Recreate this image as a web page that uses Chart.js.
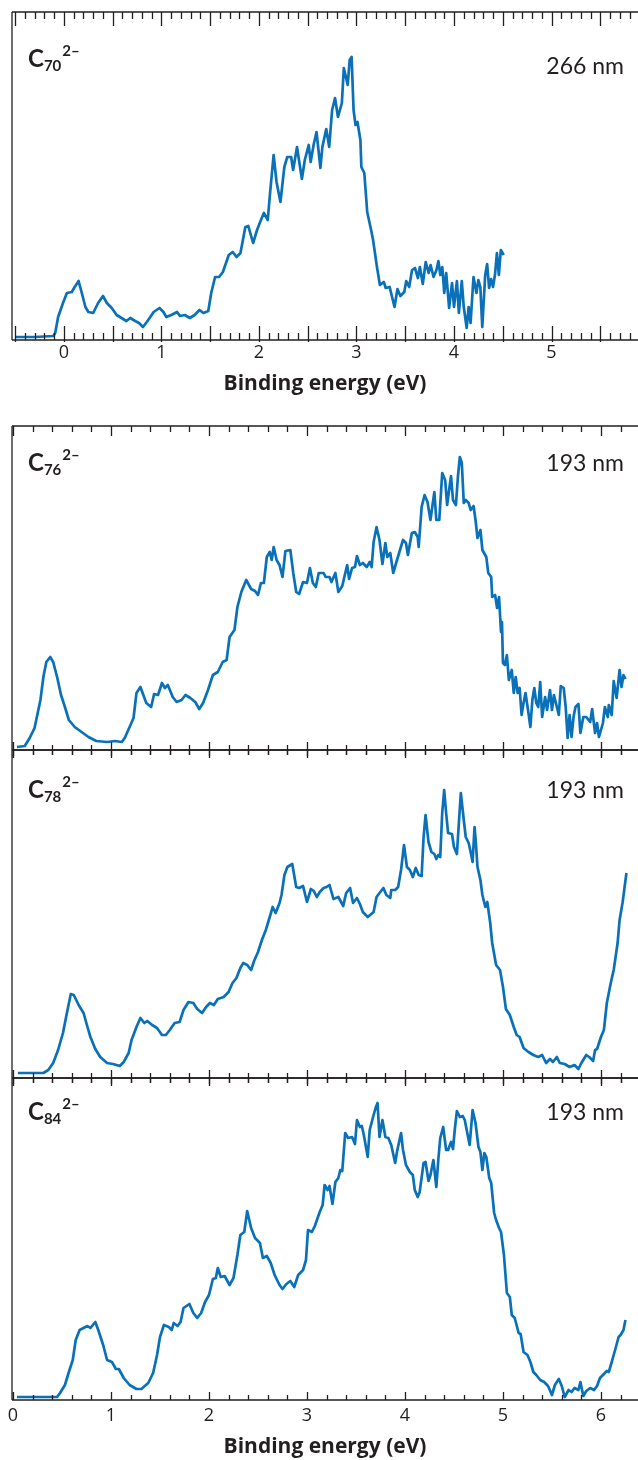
<!DOCTYPE html>
<html>
<head>
<meta charset="utf-8">
<title>Photoelectron spectra of fullerene dianions</title>
<script src="https://cdn.jsdelivr.net/npm/chart.js@4.4.0/dist/chart.umd.min.js"></script>
<style>
    html, body { margin: 0; padding: 0; background: #fff; }
    body { width: 638px; height: 1460px; position: relative; overflow: hidden; }
    canvas { position: absolute; left: 0; }
</style>
</head>
<body>
<canvas id="c70" width="638" height="400" style="top:0px"></canvas>
<canvas id="c76" width="638" height="336" style="top:420px"></canvas>
<canvas id="c78" width="638" height="340" style="top:744px"></canvas>
<canvas id="c84" width="638" height="388" style="top:1072px"></canvas>
<script>
// Data: binding energy (eV) and signal (arb. units)
const c70Energy = [
    -0.50, -0.30, -0.11, -0.09, -0.06, -0.01, 0.03, 0.08, 0.11, 0.15,
    0.18, 0.22, 0.25, 0.30, 0.35, 0.40, 0.44, 0.49, 0.54, 0.59,
    0.64, 0.68, 0.73, 0.77, 0.81, 0.85, 0.92, 0.98, 1.02, 1.05,
    1.10, 1.16, 1.19, 1.24, 1.29, 1.34, 1.39, 1.43, 1.48, 1.51,
    1.55, 1.59, 1.63, 1.69, 1.73, 1.77, 1.81, 1.86, 1.89, 1.94,
    1.98, 2.02, 2.05, 2.09, 2.11, 2.15, 2.18, 2.22, 2.26, 2.29,
    2.33, 2.35, 2.39, 2.41, 2.44, 2.47, 2.51, 2.53, 2.56, 2.59,
    2.63, 2.65, 2.69, 2.72, 2.75, 2.78, 2.81, 2.85, 2.87, 2.91,
    2.93, 2.95, 2.97, 2.99, 3.01, 3.04, 3.05, 3.08, 3.11, 3.15,
    3.17, 3.21, 3.24, 3.28, 3.30, 3.34, 3.36, 3.39, 3.42, 3.45,
    3.49, 3.51, 3.54, 3.57, 3.60, 3.63, 3.65, 3.68, 3.71, 3.74,
    3.76, 3.79, 3.82, 3.84, 3.86, 3.88, 3.90, 3.92, 3.95, 3.98,
    4.00, 4.03, 4.05, 4.08, 4.10, 4.13, 4.15, 4.17, 4.20, 4.23,
    4.25, 4.27, 4.29, 4.32, 4.34, 4.36, 4.38, 4.40, 4.42, 4.44,
    4.46, 4.48, 4.51
];
const c70Signal = [
    3, 3, 4, 7, 23, 37, 47, 48, 53, 59,
    48, 33, 28, 27, 37, 44, 37, 32, 25, 22,
    19, 22, 19, 17, 13, 18, 28, 32, 28, 23,
    25, 28, 24, 25, 22, 25, 30, 27, 29, 47,
    63, 63, 68, 85, 88, 83, 87, 113, 114, 97,
    110, 120, 127, 120, 143, 185, 158, 138, 173, 183,
    183, 170, 193, 180, 161, 180, 195, 178, 195, 208,
    172, 193, 211, 193, 230, 242, 223, 237, 272, 255,
    280, 283, 230, 215, 218, 200, 173, 167, 128, 110,
    100, 73, 55, 58, 52, 53, 45, 33, 51, 44,
    48, 59, 53, 70, 72, 62, 73, 56, 78, 67,
    75, 63, 70, 79, 65, 73, 47, 67, 32, 57,
    33, 59, 27, 59, 33, 12, 33, 17, 63, 47,
    60, 53, 13, 65, 76, 52, 61, 53, 65, 87,
    65, 90, 85
];

const c76Energy = [
    0.04, 0.12, 0.17, 0.22, 0.28, 0.31, 0.34, 0.38, 0.41, 0.45,
    0.49, 0.53, 0.57, 0.63, 0.70, 0.77, 0.85, 0.96, 1.04, 1.11,
    1.14, 1.19, 1.23, 1.26, 1.30, 1.33, 1.36, 1.41, 1.44, 1.48,
    1.52, 1.55, 1.58, 1.63, 1.67, 1.72, 1.76, 1.81, 1.86, 1.90,
    1.94, 1.99, 2.04, 2.09, 2.14, 2.18, 2.21, 2.26, 2.29, 2.33,
    2.38, 2.43, 2.47, 2.50, 2.53, 2.56, 2.59, 2.62, 2.64, 2.66,
    2.69, 2.72, 2.75, 2.78, 2.83, 2.86, 2.89, 2.92, 2.96, 3.00,
    3.03, 3.06, 3.09, 3.12, 3.17, 3.19, 3.23, 3.25, 3.29, 3.32,
    3.36, 3.41, 3.43, 3.46, 3.49, 3.51, 3.54, 3.57, 3.61, 3.64,
    3.66, 3.68, 3.71, 3.74, 3.77, 3.80, 3.82, 3.85, 3.88, 3.91,
    3.94, 3.98, 4.01, 4.03, 4.07, 4.10, 4.13, 4.14, 4.17, 4.20,
    4.23, 4.26, 4.30, 4.32, 4.35, 4.38, 4.41, 4.43, 4.47, 4.49,
    4.52, 4.54, 4.56, 4.58, 4.60, 4.62, 4.65, 4.67, 4.70, 4.72,
    4.74, 4.77, 4.79, 4.83, 4.85, 4.88, 4.89, 4.92, 4.94, 4.96,
    4.98, 4.99, 5.00, 5.02, 5.04, 5.06, 5.09, 5.11, 5.13, 5.15,
    5.17, 5.19, 5.21, 5.23, 5.26, 5.28, 5.30, 5.32, 5.34, 5.36,
    5.38, 5.40, 5.43, 5.45, 5.48, 5.50, 5.52, 5.55, 5.57, 5.59,
    5.62, 5.64, 5.66, 5.68, 5.70, 5.72, 5.74, 5.77, 5.79, 5.82,
    5.85, 5.89, 5.91, 5.94, 5.96, 5.98, 6.02, 6.04, 6.07, 6.08,
    6.11, 6.13, 6.16, 6.19, 6.21, 6.23, 6.25
];
const c76Signal = [
    3, 4, 12, 22, 50, 73, 88, 93, 88, 73,
    55, 43, 30, 23, 18, 13, 9, 8, 9, 8,
    12, 23, 32, 57, 63, 55, 47, 43, 56, 55,
    67, 62, 65, 53, 48, 50, 55, 52, 48, 41,
    47, 60, 75, 78, 88, 90, 113, 120, 143, 158,
    170, 161, 159, 155, 167, 167, 193, 198, 190, 203,
    190, 185, 173, 199, 200, 177, 158, 156, 168, 167,
    182, 167, 163, 177, 177, 173, 173, 168, 177, 158,
    164, 185, 171, 182, 183, 194, 185, 187, 183, 188,
    183, 208, 223, 210, 186, 207, 193, 197, 177, 187,
    197, 210, 207, 195, 217, 218, 213, 203, 243, 255,
    248, 230, 258, 230, 230, 277, 270, 245, 274, 250,
    245, 273, 293, 287, 247, 250, 247, 240, 244, 230,
    212, 220, 200, 193, 177, 173, 153, 155, 142, 153,
    118, 128, 87, 85, 95, 70, 80, 57, 73, 57,
    62, 35, 47, 57, 37, 23, 50, 62, 47, 43,
    68, 33, 53, 40, 60, 40, 55, 43, 35, 64,
    62, 43, 12, 35, 13, 33, 43, 46, 17, 33,
    33, 28, 41, 17, 27, 13, 27, 43, 33, 45,
    35, 69, 52, 80, 63, 75, 71
];

const c78Energy = [
    0.05, 0.31, 0.36, 0.41, 0.46, 0.51, 0.55, 0.59, 0.62, 0.67,
    0.72, 0.76, 0.79, 0.84, 0.89, 0.96, 1.02, 1.09, 1.13, 1.18,
    1.21, 1.26, 1.30, 1.34, 1.37, 1.42, 1.47, 1.52, 1.56, 1.60,
    1.65, 1.70, 1.74, 1.79, 1.84, 1.88, 1.93, 1.97, 2.01, 2.05,
    2.09, 2.15, 2.20, 2.24, 2.28, 2.32, 2.35, 2.39, 2.43, 2.46,
    2.50, 2.54, 2.58, 2.62, 2.65, 2.68, 2.72, 2.74, 2.77, 2.80,
    2.85, 2.89, 2.92, 2.96, 3.00, 3.04, 3.07, 3.10, 3.13, 3.17,
    3.20, 3.23, 3.27, 3.32, 3.37, 3.40, 3.44, 3.47, 3.51, 3.54,
    3.57, 3.62, 3.68, 3.71, 3.74, 3.78, 3.81, 3.85, 3.86, 3.90,
    3.93, 3.96, 3.99, 4.02, 4.05, 4.08, 4.11, 4.14, 4.17, 4.19,
    4.21, 4.24, 4.27, 4.30, 4.32, 4.34, 4.36, 4.38, 4.40, 4.42,
    4.44, 4.48, 4.50, 4.53, 4.55, 4.57, 4.60, 4.62, 4.65, 4.67,
    4.69, 4.71, 4.72, 4.74, 4.77, 4.79, 4.82, 4.84, 4.87, 4.89,
    4.93, 4.97, 5.00, 5.03, 5.07, 5.11, 5.14, 5.17, 5.21, 5.26,
    5.31, 5.36, 5.40, 5.44, 5.48, 5.51, 5.55, 5.58, 5.63, 5.68,
    5.73, 5.77, 5.80, 5.85, 5.88, 5.92, 5.94, 5.96, 6.00, 6.03,
    6.06, 6.10, 6.13, 6.17, 6.19, 6.22, 6.26
];
const c78Signal = [
    5, 5, 8, 15, 28, 45, 65, 84, 83, 73,
    65, 51, 41, 29, 21, 15, 14, 12, 16, 25,
    38, 51, 60, 55, 57, 53, 50, 43, 43, 48,
    55, 56, 68, 76, 75, 69, 65, 71, 75, 73,
    79, 81, 86, 95, 100, 110, 115, 113, 108, 117,
    126, 138, 148, 161, 171, 165, 175, 183, 203, 211,
    214, 191, 190, 192, 176, 189, 187, 181, 186, 190,
    191, 193, 179, 181, 172, 185, 190, 175, 180, 174,
    166, 161, 166, 181, 185, 190, 183, 180, 188, 188,
    191, 208, 233, 211, 208, 201, 210, 203, 202, 241,
    263, 236, 226, 224, 219, 223, 221, 265, 288, 265,
    245, 244, 231, 224, 255, 285, 258, 241, 235, 226,
    216, 251, 240, 211, 198, 183, 171, 176, 155, 135,
    113, 108, 91, 69, 63, 51, 43, 41, 30, 26,
    23, 21, 23, 15, 19, 16, 21, 15, 14, 11,
    13, 9, 15, 23, 21, 17, 28, 29, 41, 48,
    75, 95, 108, 135, 158, 175, 205
];

const c84Energy = [
    0.04, 0.45, 0.48, 0.53, 0.57, 0.61, 0.64, 0.68, 0.72, 0.76,
    0.79, 0.84, 0.87, 0.92, 0.96, 1.01, 1.05, 1.08, 1.13, 1.19,
    1.26, 1.31, 1.38, 1.43, 1.47, 1.50, 1.54, 1.59, 1.62, 1.64,
    1.68, 1.71, 1.74, 1.80, 1.84, 1.88, 1.92, 1.96, 2.00, 2.04,
    2.07, 2.09, 2.12, 2.16, 2.21, 2.25, 2.29, 2.32, 2.36, 2.39,
    2.43, 2.47, 2.52, 2.55, 2.59, 2.63, 2.67, 2.72, 2.75, 2.79,
    2.83, 2.87, 2.91, 2.96, 2.99, 3.01, 3.05, 3.08, 3.13, 3.16,
    3.18, 3.21, 3.23, 3.26, 3.29, 3.32, 3.34, 3.36, 3.39, 3.42,
    3.46, 3.49, 3.51, 3.54, 3.56, 3.58, 3.62, 3.64, 3.68, 3.70,
    3.72, 3.74, 3.77, 3.80, 3.83, 3.86, 3.90, 3.92, 3.96, 3.98,
    4.01, 4.05, 4.08, 4.10, 4.13, 4.15, 4.19, 4.21, 4.24, 4.26,
    4.29, 4.32, 4.34, 4.36, 4.39, 4.42, 4.44, 4.47, 4.49, 4.51,
    4.53, 4.56, 4.59, 4.61, 4.64, 4.66, 4.69, 4.72, 4.75, 4.77,
    4.79, 4.81, 4.83, 4.86, 4.88, 4.91, 4.93, 4.96, 4.98, 5.01,
    5.04, 5.07, 5.09, 5.12, 5.16, 5.18, 5.21, 5.25, 5.28, 5.31,
    5.34, 5.38, 5.42, 5.46, 5.50, 5.53, 5.57, 5.60, 5.63, 5.67,
    5.70, 5.73, 5.77, 5.79, 5.82, 5.85, 5.89, 5.93, 5.96, 5.99,
    6.02, 6.06, 6.08, 6.11, 6.13, 6.15, 6.18, 6.20, 6.23, 6.25
];
const c84Signal = [
    3, 3, 7, 15, 28, 40, 60, 70, 72, 74,
    72, 78, 70, 55, 40, 38, 31, 31, 22, 15,
    11, 11, 17, 27, 45, 63, 75, 73, 70, 77,
    74, 78, 92, 96, 87, 82, 87, 98, 105, 121,
    122, 132, 123, 124, 115, 122, 145, 165, 168, 189,
    172, 162, 157, 142, 144, 137, 125, 115, 111, 116,
    119, 113, 125, 130, 140, 170, 168, 174, 188, 195,
    215, 210, 214, 196, 218, 222, 230, 229, 267, 262,
    263, 256, 280, 273, 274, 265, 243, 270, 285, 292,
    297, 263, 280, 263, 262, 255, 237, 249, 267, 250,
    235, 228, 225, 210, 203, 208, 237, 238, 219, 225,
    240, 213, 240, 262, 273, 250, 250, 258, 251, 272,
    289, 283, 284, 280, 265, 255, 290, 277, 253, 248,
    230, 247, 243, 222, 217, 187, 180, 172, 168, 145,
    107, 103, 85, 82, 67, 66, 48, 45, 38, 28,
    25, 20, 18, 14, 5, 15, 21, 14, 3, 10,
    8, 12, 10, 18, 4, 9, 12, 10, 14, 22,
    25, 29, 28, 38, 45, 52, 63, 65, 70, 80
];

// Tick labels on the two labelled axes
const topTickLabels = [0, 1, 2, 3, 4, 5];
const bottomTickLabels = [0, 1, 2, 3, 4, 5, 6];

const ink = '#231f20';
const lineBlue = '#0a71b9';
const fontFamily = 'Lato, "Open Sans", sans-serif';
const axisFont = '"Open Sans", Lato, sans-serif';

// Frame, inward tick marks and panel captions
const panelDecor = {
    id: 'panelDecor',
    afterDraw(chart, args, opts) {
        const { ctx, chartArea: a } = chart;
        const x = chart.scales.x;
        ctx.save();
        ctx.strokeStyle = ink;
        ctx.lineWidth = 1.3;
        ctx.beginPath();
        ctx.moveTo(a.left, a.top);
        ctx.lineTo(a.right, a.top);
        ctx.moveTo(a.left, a.bottom);
        ctx.lineTo(a.right, a.bottom);
        ctx.moveTo(a.left, a.top);
        ctx.lineTo(a.left, a.bottom);

        const first = Math.ceil(x.min / opts.minorStep - 1e-6);
        const last = Math.floor(x.max / opts.minorStep + 1e-6);
        for (let i = first; i <= last; i++) {
            const v = i * opts.minorStep;
            const r = v / opts.majorStep;
            const major = Math.abs(r - Math.round(r)) < 1e-6;
            const px = Math.round(x.getPixelForValue(v)) + 0.5;
            if (px <= a.left + 1) continue;
            const t = major ? opts.topMajor : opts.topMinor;
            const b = major ? opts.bottomMajor : opts.bottomMinor;
            ctx.moveTo(px, a.top);
            ctx.lineTo(px, a.top + t);
            ctx.moveTo(px, a.bottom - b[0]);
            ctx.lineTo(px, a.bottom + b[1]);
        }
        ctx.stroke();

        // Species label with sub- and superscript
        const base = a.top + opts.labelDrop;
        ctx.fillStyle = ink;
        ctx.textBaseline = 'alphabetic';
        ctx.textAlign = 'left';
        ctx.font = 'bold 24px ' + fontFamily;
        let tx = a.left + 16;
        ctx.fillText('C', tx, base);
        tx += ctx.measureText('C').width;
        ctx.font = 'bold 15px ' + fontFamily;
        ctx.fillText(opts.size, tx, base + 4);
        tx += ctx.measureText(opts.size).width + 1;
        ctx.fillText('2\u2013', tx, base - 11);

        // Laser wavelength
        ctx.font = '23px ' + fontFamily;
        ctx.textAlign = 'right';
        ctx.fillText(opts.wave, a.right - 14, base + opts.waveShift);
        ctx.restore();
    }
};

function toPoints(energy, signal) {
    return energy.map((e, i) => ({ x: e, y: signal[i] }));
}

function createPanel(id, energy, signal, cfg) {
    const ctx = document.getElementById(id).getContext('2d');
    const xAxis = {
        type: 'linear',
        min: cfg.xMin,
        max: cfg.xMax,
        display: !!cfg.tickLabels,
        grid: { display: false, drawTicks: false },
        border: { display: false }
    };
    if (cfg.tickLabels) {
        xAxis.afterBuildTicks = scale => {
            scale.ticks = cfg.tickLabels.map(v => ({ value: v }));
        };
        xAxis.afterFit = scale => { scale.height = 60; };
        xAxis.ticks = {
            autoSkip: false,
            maxRotation: 0,
            padding: cfg.tickPad,
            color: ink,
            font: { family: axisFont, size: 18 }
        };
        xAxis.title = {
            display: true,
            text: 'Binding energy (eV)',
            color: ink,
            font: { family: axisFont, size: 21, weight: 'bold' },
            padding: { top: 0, bottom: cfg.titlePad }
        };
    }

    return new Chart(ctx, {
        type: 'line',
        data: {
            datasets: [{
                data: toPoints(energy, signal),
                borderColor: lineBlue,
                borderWidth: 2.7,
                borderJoinStyle: 'round',
                pointRadius: 0,
                tension: 0,
                fill: false
            }]
        },
        options: {
            responsive: false,
            animation: false,
            events: [],
            layout: { padding: cfg.padding },
            scales: {
                x: xAxis,
                y: { display: false, min: 0, max: cfg.yMax }
            },
            plugins: {
                legend: { display: false },
                tooltip: { enabled: false },
                panelDecor: cfg.decor
            }
        },
        plugins: [panelDecor]
    });
}

document.addEventListener('DOMContentLoaded', () => {
    createPanel('c70', c70Energy, c70Signal, {
        xMin: -0.533, xMax: 5.887, yMax: 328,
        padding: { left: 12, top: 12, right: 0, bottom: 0 },
        tickLabels: topTickLabels, tickPad: 2, titlePad: 3,
        decor: {
            size: '70', wave: '266 nm', labelDrop: 55, waveShift: 7,
            minorStep: 0.1, majorStep: 0.5,
            topMajor: 14, topMinor: 7,
            bottomMajor: [14, 2], bottomMinor: [7, 0]
        }
    });
    createPanel('c76', c76Energy, c76Signal, {
        xMin: -0.0102, xMax: 6.378, yMax: 324,
        padding: { left: 12, top: 6, right: 0, bottom: 6 },
        decor: {
            size: '76', wave: '193 nm', labelDrop: 45, waveShift: 0,
            minorStep: 0.2, majorStep: 1,
            topMajor: 10, topMinor: 6,
            bottomMajor: [8, 8], bottomMinor: [5, 5]
        }
    });
    createPanel('c78', c78Energy, c78Signal, {
        xMin: -0.0102, xMax: 6.378, yMax: 328,
        padding: { left: 12, top: 6, right: 0, bottom: 6 },
        decor: {
            size: '78', wave: '193 nm', labelDrop: 48, waveShift: 0,
            minorStep: 0.2, majorStep: 1,
            topMajor: 8, topMinor: 5,
            bottomMajor: [8, 8], bottomMinor: [5, 5]
        }
    });
    createPanel('c84', c84Energy, c84Signal, {
        xMin: -0.0102, xMax: 6.378, yMax: 322,
        padding: { left: 12, top: 6, right: 0, bottom: 0 },
        tickLabels: bottomTickLabels, tickPad: 5, titlePad: 0,
        decor: {
            size: '84', wave: '193 nm', labelDrop: 42, waveShift: 0,
            minorStep: 0.2, majorStep: 1,
            topMajor: 8, topMinor: 5,
            bottomMajor: [8, 0], bottomMinor: [5, 0]
        }
    });
});
</script>
</body>
</html>
